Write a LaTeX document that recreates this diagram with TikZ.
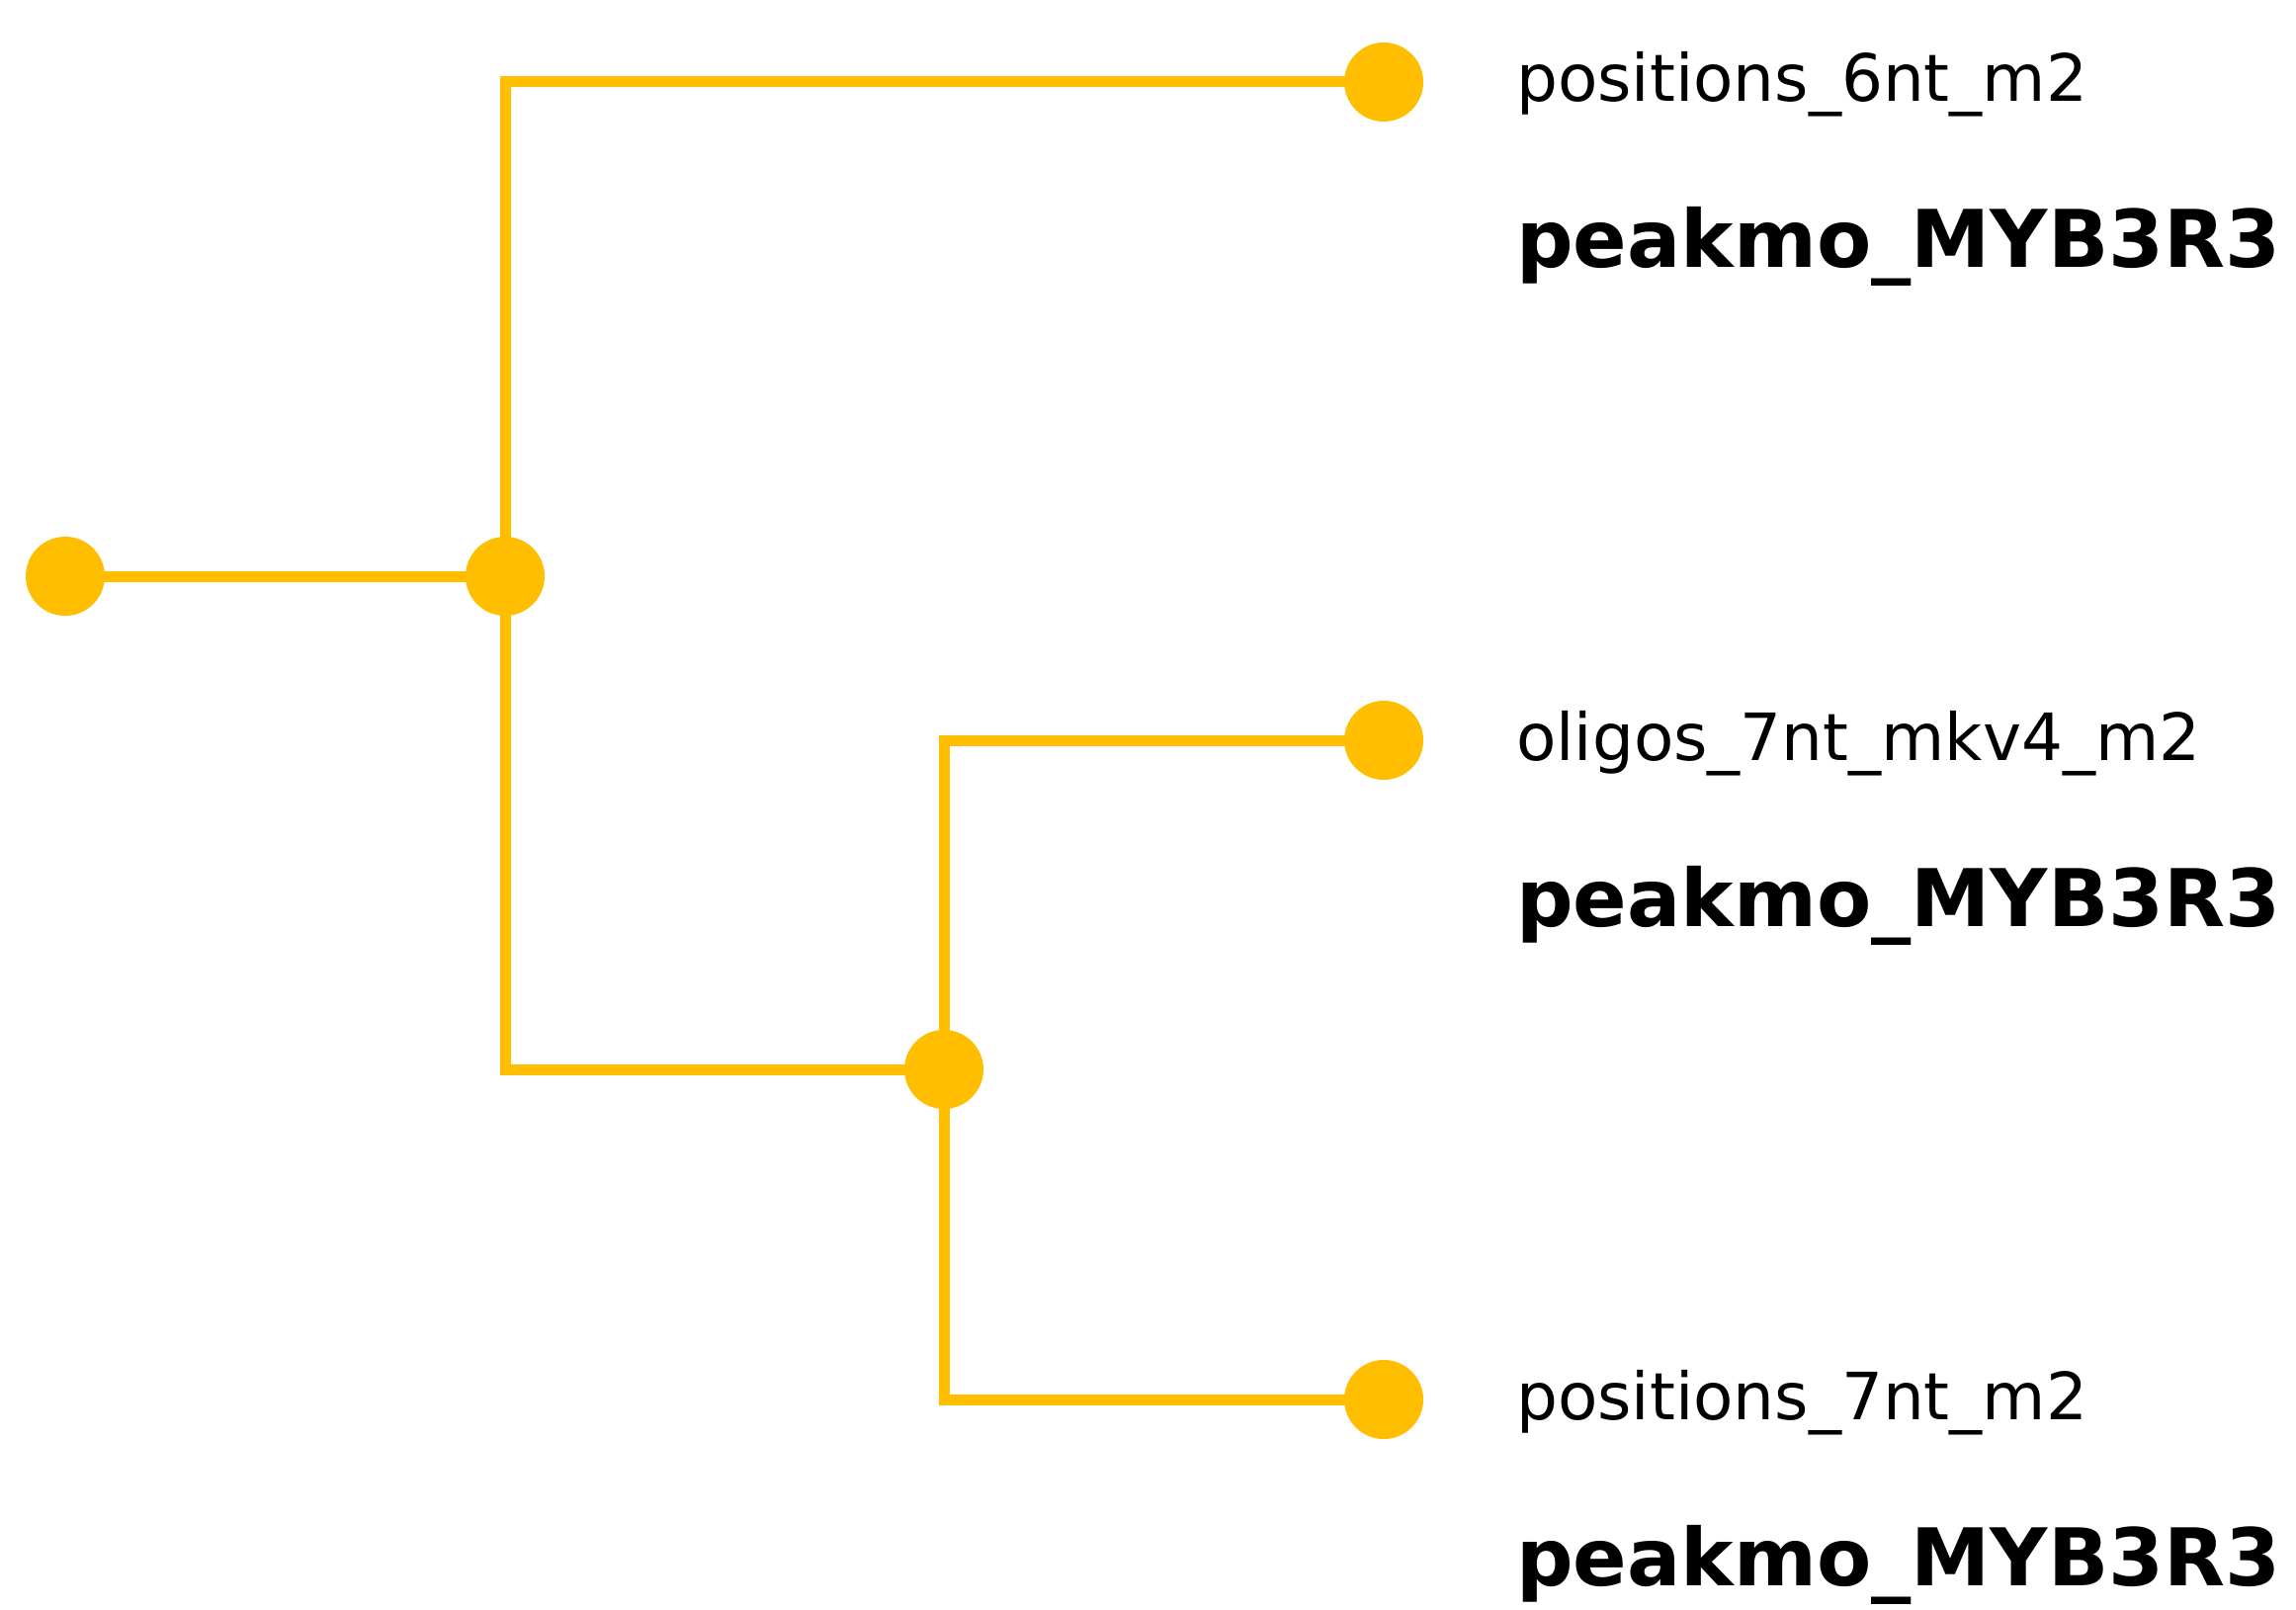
\documentclass[tikz,border=0pt]{standalone}
\usepackage{fontspec}
\setmainfont{DejaVu Sans}
\definecolor{amber}{RGB}{255,191,0}
\begin{document}
\begin{tikzpicture}[x=1pt,y=-1pt,
  dot/.style={circle,fill=amber,draw=none,minimum size=80pt,inner sep=0pt},
  edge/.style={draw=amber,line width=11pt,line join=miter,line cap=butt},
  lab/.style={anchor=base west,inner sep=0pt,font=\fontsize{66}{78}\selectfont},
  blab/.style={anchor=base west,inner sep=0pt,font=\fontsize{80.5}{96}\selectfont\bfseries}]
\useasboundingbox (0,0) rectangle (2323,1629);
\draw[edge] (66,583) coordinate (r0) -- (511,583) coordinate (c1);
\draw[edge] (c1) |- (1400,83) coordinate (l1);
\draw[edge] (c1) |- (955,1082) coordinate (c2);
\draw[edge] (c2) |- (1400,749) coordinate (l2);
\draw[edge] (c2) |- (1400,1416) coordinate (l3);
\node[dot] (root) at (r0) {};
\node[dot] (n1) at (c1) {};
\node[dot] (n2) at (c2) {};
\node[dot] (leaf1) at (l1) {};
\node[dot] (leaf2) at (l2) {};
\node[dot] (leaf3) at (l3) {};
\node[lab] (t1) at (1534,103) {positions\_6nt\_m2};
\node[blab] (b1) at (1534,271) {peakmo\_MYB3R3};
\node[lab] (t2) at (1534,769) {oligos\_7nt\_mkv4\_m2};
\node[blab] (b2) at (1534,937) {peakmo\_MYB3R3};
\node[lab] (t3) at (1534,1436) {positions\_7nt\_m2};
\node[blab] (b3) at (1534,1604) {peakmo\_MYB3R3};
\end{tikzpicture}
\end{document}
